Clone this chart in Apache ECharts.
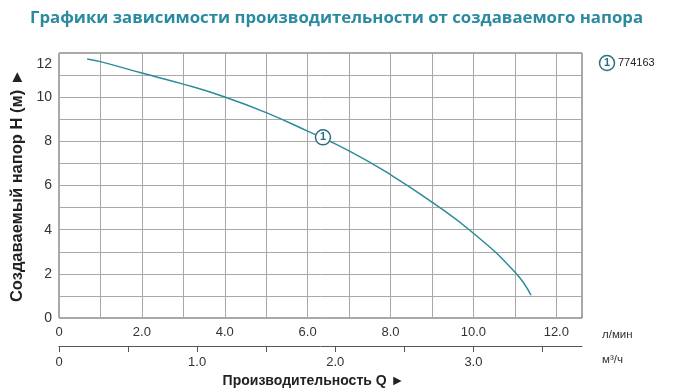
<!DOCTYPE html>
<html>
<head>
<meta charset="utf-8">
<script src="https://cdn.jsdelivr.net/npm/echarts@6/dist/echarts.min.js"></script>
<style>html,body{margin:0;padding:0;background:#fff;}#c{width:680px;height:392px;}</style>
</head>
<body>
<div id="c"></div>
<script>
// Data (l/min vs head in m)
const flowLmin = [0.68, 1, 2, 3, 4, 5, 6, 7, 8, 9, 10, 11, 11.39];
const headM    = [11.73, 11.61, 11.09, 10.59, 10.01, 9.30, 8.46, 7.57, 6.49, 5.25, 3.84, 2.08, 1.03];
const markerPoint = [6.37, 8.18];
const seriesLabels = ['1'];
const seriesNames = ['774163'];
const xMaxLmin = 12.62;
const m3hPerLmin = 0.3;   // scale of the secondary axis as drawn

const teal = '#2a8c99';
const chart = echarts.init(document.getElementById('c'));
const curve = flowLmin.map((x, i) => [x, headM[i]]);

chart.setOption({
  animation: false,
  title: {
    text: 'Графики зависимости производительности от создаваемого напора',
    left: 25, top: 5,
    textStyle: { fontFamily: 'Open Sans', fontWeight: 'bold', fontSize: 16.8, color: '#2a8ba0' }
  },
  grid: { left: 59, right: 98, top: 53, bottom: 74, show: true, borderColor: '#555', borderWidth: 1, containLabel: false, outerBoundsMode: 'none' },
  xAxis: [
    {
      type: 'value', min: 0, max: xMaxLmin, interval: 1,
      axisLine: { show: false }, axisTick: { show: false },
      splitLine: { lineStyle: { color: '#a8a8a8', width: 1 } },
      axisLabel: {
        margin: 8, fontFamily: 'Liberation Sans', fontSize: 13, color: '#333',
        showMaxLabel: false,
        formatter: v => v === 0 ? '0' : (Math.abs(v % 2) < 1e-9 ? v.toFixed(1) : '')
      }
    },
    {
      type: 'value', position: 'bottom', offset: 28, min: 0, max: xMaxLmin * m3hPerLmin, interval: 0.5,
      axisLine: { show: true, lineStyle: { color: '#555', width: 1 } },
      axisTick: { show: true, length: 6, lineStyle: { color: '#555' } },
      splitLine: { show: false },
      axisLabel: {
        margin: 10, fontFamily: 'Liberation Sans', fontSize: 13, color: '#333',
        showMaxLabel: false,
        formatter: v => v === 0 ? '0' : (Math.abs(v % 1) < 1e-9 ? v.toFixed(1) : '')
      },
      name: 'Производительность Q ►', nameLocation: 'middle', nameGap: 26,
      nameTextStyle: { fontFamily: 'Liberation Sans', fontWeight: 'bold', fontSize: 14, color: '#222', padding: [0, 14, 0, 0] }
    }
  ],
  yAxis: {
    type: 'value', min: 0, max: 12, interval: 1,
    axisLine: { show: false }, axisTick: { show: false },
    splitLine: { lineStyle: { color: '#a8a8a8', width: 1 } },
    axisLabel: {
      margin: 7, fontFamily: 'Liberation Sans', fontSize: 14, color: '#333',
      formatter: v => v === 12 ? '{t|12}' : (v % 2 === 0 ? String(v) : ''),
      rich: { t: { fontFamily: 'Liberation Sans', fontSize: 14, color: '#333', padding: [22, 0, 0, 0] } }
    },
    name: 'Создаваемый напор H (м) ►', nameLocation: 'middle', nameGap: 32, nameRotate: 90,
    nameTextStyle: { fontFamily: 'Liberation Sans', fontWeight: 'bold', fontSize: 16.5, color: '#222', padding: [0, 0, 0, 0] }
  },
  series: [
    {
      type: 'line', name: seriesNames[0], data: curve, smooth: true, showSymbol: false,
      lineStyle: { color: teal, width: 1.5 }, xAxisIndex: 0, z: 2
    },
    {
      type: 'scatter', data: [markerPoint], symbol: 'circle', symbolSize: 15, xAxisIndex: 0, z: 3,
      itemStyle: { color: '#fff', borderColor: '#2a6f80', borderWidth: 1.5, opacity: 1 },
      label: { show: true, position: 'inside', formatter: seriesLabels[0], color: '#2a6f80', fontWeight: 'bold', fontSize: 11, fontFamily: 'Liberation Sans' }
    }
  ],
  graphic: [
    { type: 'text', left: 602, top: 329, style: { text: 'л/мин', font: '11.5px "Liberation Sans"', fill: '#333' } },
    { type: 'text', left: 602, top: 354, style: { text: 'м³/ч', font: '11.5px "Liberation Sans"', fill: '#333' } },
    { type: 'circle', shape: { cx: 607, cy: 63, r: 7.5 }, style: { fill: '#fff', stroke: '#2a6f80', lineWidth: 1.5 } },
    { type: 'text', x: 607, y: 63, style: { text: seriesLabels[0], font: 'bold 11px "Liberation Sans"', fill: '#2a6f80', align: 'center', verticalAlign: 'middle' } },
    { type: 'text', x: 618, y: 63, style: { text: seriesNames[0], font: '11px "Liberation Sans"', fill: '#222', verticalAlign: 'middle' } }
  ]
});
</script>
</body>
</html>
